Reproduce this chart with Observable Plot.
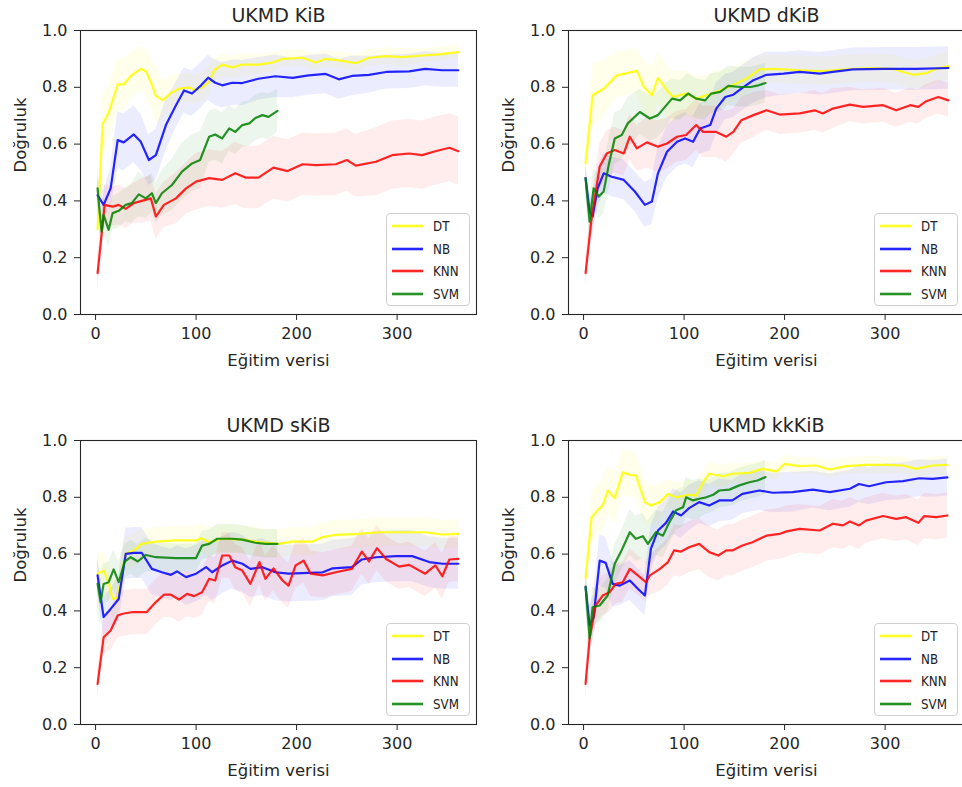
<!DOCTYPE html>
<html><head><meta charset="utf-8">
<script src="https://cdn.jsdelivr.net/npm/d3@7"></script>
<script src="https://cdn.jsdelivr.net/npm/@observablehq/plot@0.6"></script>
<style>
html,body{margin:0;padding:0;background:#fff;overflow:hidden;width:962px;height:787px}
#root{position:relative;width:962px;height:787px;overflow:hidden;font-family:"DejaVu Sans",sans-serif}
.panel{position:absolute}
.legend{position:absolute;box-sizing:border-box;border:1px solid #d0d0d0;border-radius:4px;background:rgba(255,255,255,0.85)}
.lrow{position:absolute;left:0;height:20px;width:100%}
.lrow svg{position:absolute;left:5px;top:0}
.lrow span{position:absolute;left:46px;top:1px;font-size:13.5px;color:#222;line-height:18px;transform:scaleX(0.88);transform-origin:left center}
</style></head><body><div id="root"></div>
<script>
// ---- data: [training size, mean accuracy, spread] ----
const methods = ["DT", "NB", "KNN", "SVM"];
const colors = ["#ffff00", "#0000ff", "#ff0000", "#008000"];
const titles = ["UKMD KiB", "UKMD dKiB", "UKMD sKiB", "UKMD kkKiB"];
const xTicks = [0, 100, 200, 300];
const yTicks = [0, 0.2, 0.4, 0.6, 0.8, 1.0];
const xLabel = "Eğitim verisi";
const yLabel = "Doğruluk";

const kib_DT = [[2,0.30,0.06],[7,0.67,0.10],[13,0.71,0.10],[22,0.81,0.09],[28,0.81,0.09],[35,0.84,0.08],[45,0.865,0.08],[50,0.856,0.08],[56,0.81,0.09],[60,0.77,0.10],[67,0.755,0.07],[75,0.78,0.06],[83,0.795,0.05],[93,0.80,0.05],[98,0.79,0.05],[106,0.80,0.05],[113,0.82,0.05],[118,0.86,0.04],[126,0.88,0.04],[136,0.87,0.04],[146,0.88,0.04],[162,0.88,0.035],[176,0.887,0.035],[186,0.90,0.03],[206,0.904,0.03],[219,0.887,0.03],[229,0.90,0.03],[242,0.895,0.03],[259,0.885,0.03],[272,0.904,0.03],[289,0.91,0.03],[305,0.906,0.03],[325,0.912,0.025],[342,0.916,0.025],[361,0.924,0.025]];
const kib_NB = [[2,0.42,0.06],[8,0.386,0.05],[15,0.444,0.07],[22,0.614,0.10],[28,0.606,0.10],[38,0.634,0.10],[45,0.608,0.10],[53,0.544,0.09],[60,0.561,0.09],[70,0.667,0.09],[80,0.737,0.08],[88,0.789,0.08],[96,0.778,0.08],[105,0.807,0.08],[112,0.834,0.08],[119,0.816,0.08],[126,0.807,0.08],[136,0.816,0.08],[146,0.815,0.08],[162,0.83,0.075],[179,0.839,0.075],[196,0.833,0.07],[212,0.842,0.07],[229,0.847,0.07],[242,0.828,0.07],[255,0.84,0.07],[272,0.844,0.065],[289,0.854,0.06],[312,0.856,0.06],[328,0.865,0.06],[345,0.86,0.06],[361,0.86,0.06]];
const kib_KNN = [[2,0.146,0.06],[7,0.316,0.07],[9,0.386,0.07],[17,0.38,0.07],[23,0.386,0.07],[30,0.372,0.07],[38,0.392,0.07],[46,0.40,0.08],[55,0.409,0.08],[60,0.345,0.08],[68,0.386,0.08],[80,0.409,0.09],[90,0.444,0.09],[100,0.468,0.10],[113,0.48,0.10],[126,0.474,0.10],[139,0.497,0.11],[149,0.482,0.11],[162,0.482,0.11],[177,0.517,0.11],[191,0.505,0.11],[206,0.529,0.11],[219,0.526,0.11],[239,0.529,0.11],[250,0.544,0.11],[259,0.524,0.11],[279,0.538,0.12],[295,0.561,0.12],[312,0.567,0.12],[325,0.561,0.12],[338,0.575,0.12],[352,0.587,0.12],[361,0.575,0.12]];
const kib_SVM = [[2,0.444,0.09],[4,0.363,0.07],[6,0.292,0.06],[8,0.351,0.06],[13,0.298,0.06],[17,0.357,0.06],[23,0.365,0.06],[30,0.386,0.06],[36,0.392,0.07],[43,0.423,0.08],[50,0.409,0.07],[56,0.427,0.07],[60,0.392,0.07],[66,0.427,0.08],[76,0.456,0.09],[86,0.503,0.10],[96,0.532,0.10],[104,0.544,0.10],[113,0.626,0.09],[119,0.634,0.09],[126,0.62,0.09],[133,0.655,0.08],[139,0.643,0.08],[146,0.667,0.08],[153,0.673,0.08],[159,0.692,0.08],[166,0.702,0.08],[172,0.696,0.08],[181,0.717,0.075]];

const dkib_DT = [[2,0.532,0.06],[6,0.667,0.10],[9,0.772,0.11],[20,0.795,0.10],[33,0.842,0.08],[53,0.858,0.08],[60,0.801,0.09],[68,0.772,0.10],[74,0.833,0.09],[83,0.789,0.09],[89,0.766,0.09],[102,0.778,0.08],[112,0.76,0.08],[122,0.772,0.07],[136,0.789,0.07],[149,0.809,0.06],[162,0.83,0.06],[175,0.863,0.05],[189,0.865,0.05],[215,0.86,0.05],[235,0.857,0.05],[248,0.86,0.05],[268,0.865,0.05],[288,0.868,0.05],[308,0.865,0.05],[318,0.854,0.05],[328,0.844,0.05],[341,0.85,0.05],[351,0.865,0.05],[363,0.875,0.05]];
const dkib_NB = [[2,0.48,0.05],[6,0.363,0.06],[9,0.345,0.06],[14,0.444,0.07],[20,0.497,0.07],[28,0.485,0.07],[40,0.474,0.07],[51,0.433,0.07],[61,0.386,0.08],[68,0.398,0.08],[74,0.497,0.09],[83,0.573,0.09],[93,0.608,0.09],[101,0.62,0.09],[109,0.608,0.09],[116,0.655,0.09],[126,0.667,0.09],[132,0.725,0.09],[141,0.766,0.08],[149,0.774,0.08],[157,0.795,0.08],[169,0.825,0.08],[182,0.844,0.08],[199,0.848,0.075],[215,0.854,0.075],[235,0.848,0.075],[248,0.854,0.075],[268,0.863,0.075],[298,0.865,0.075],[331,0.865,0.075],[363,0.868,0.075]];
const dkib_KNN = [[2,0.146,0.05],[8,0.339,0.07],[16,0.52,0.08],[23,0.567,0.08],[31,0.579,0.08],[40,0.567,0.08],[46,0.626,0.08],[53,0.585,0.08],[63,0.606,0.09],[74,0.591,0.09],[83,0.602,0.09],[93,0.626,0.09],[102,0.632,0.09],[112,0.667,0.09],[119,0.643,0.09],[132,0.643,0.09],[142,0.626,0.09],[149,0.643,0.08],[157,0.684,0.08],[169,0.702,0.08],[182,0.719,0.07],[195,0.704,0.07],[215,0.708,0.07],[230,0.719,0.07],[238,0.708,0.07],[248,0.725,0.07],[265,0.739,0.06],[278,0.731,0.06],[298,0.737,0.06],[311,0.719,0.06],[325,0.737,0.06],[333,0.731,0.06],[341,0.751,0.06],[353,0.766,0.06],[363,0.754,0.06]];
const dkib_SVM = [[2,0.48,0.06],[6,0.327,0.07],[10,0.444,0.07],[15,0.415,0.08],[20,0.433,0.08],[25,0.526,0.09],[31,0.62,0.09],[38,0.632,0.09],[44,0.673,0.09],[56,0.713,0.08],[66,0.69,0.08],[74,0.702,0.08],[81,0.731,0.08],[88,0.76,0.07],[96,0.754,0.07],[104,0.778,0.07],[112,0.76,0.07],[121,0.754,0.07],[127,0.778,0.07],[136,0.784,0.07],[144,0.805,0.07],[156,0.801,0.07],[166,0.801,0.07],[174,0.807,0.07],[181,0.815,0.07]];

const skib_DT = [[2,0.531,0.07],[8,0.542,0.07],[13,0.501,0.07],[17,0.442,0.07],[22,0.448,0.06],[27,0.548,0.06],[30,0.601,0.06],[38,0.613,0.06],[46,0.636,0.05],[60,0.644,0.05],[80,0.648,0.05],[100,0.648,0.05],[105,0.656,0.05],[113,0.642,0.05],[126,0.654,0.05],[146,0.651,0.05],[163,0.642,0.05],[182,0.636,0.05],[196,0.644,0.05],[216,0.644,0.05],[226,0.66,0.05],[239,0.668,0.05],[262,0.671,0.05],[282,0.677,0.05],[312,0.677,0.05],[328,0.677,0.05],[345,0.669,0.05],[361,0.671,0.05]];
const skib_NB = [[2,0.525,0.06],[8,0.378,0.07],[15,0.407,0.07],[23,0.442,0.08],[30,0.601,0.09],[38,0.604,0.09],[46,0.604,0.09],[56,0.548,0.09],[66,0.536,0.09],[75,0.527,0.09],[81,0.539,0.09],[90,0.519,0.10],[100,0.531,0.10],[110,0.554,0.10],[116,0.536,0.10],[126,0.56,0.10],[136,0.577,0.10],[146,0.566,0.10],[154,0.548,0.10],[166,0.554,0.10],[179,0.536,0.10],[192,0.531,0.10],[212,0.534,0.10],[226,0.536,0.10],[236,0.55,0.10],[255,0.554,0.10],[265,0.581,0.09],[279,0.589,0.09],[299,0.593,0.09],[315,0.593,0.09],[332,0.572,0.09],[345,0.566,0.09],[361,0.566,0.09]];
const skib_KNN = [[2,0.143,0.05],[8,0.307,0.06],[15,0.331,0.07],[22,0.384,0.08],[27,0.39,0.08],[37,0.396,0.08],[51,0.396,0.08],[60,0.431,0.08],[68,0.457,0.08],[75,0.457,0.08],[83,0.44,0.08],[91,0.46,0.08],[98,0.452,0.08],[106,0.466,0.08],[113,0.513,0.08],[119,0.507,0.08],[126,0.595,0.08],[133,0.595,0.08],[139,0.554,0.08],[146,0.542,0.08],[154,0.495,0.08],[163,0.572,0.08],[169,0.513,0.08],[177,0.55,0.08],[186,0.507,0.08],[192,0.489,0.08],[199,0.56,0.08],[207,0.577,0.08],[214,0.531,0.08],[226,0.525,0.08],[239,0.536,0.08],[255,0.548,0.08],[265,0.609,0.08],[272,0.574,0.08],[280,0.621,0.08],[289,0.583,0.08],[302,0.556,0.08],[312,0.562,0.08],[328,0.531,0.08],[338,0.56,0.08],[345,0.522,0.08],[352,0.581,0.08],[361,0.583,0.08]];
const skib_SVM = [[2,0.495,0.10],[5,0.431,0.08],[8,0.495,0.07],[13,0.501,0.07],[18,0.546,0.07],[23,0.501,0.07],[29,0.574,0.06],[35,0.589,0.06],[42,0.574,0.06],[50,0.597,0.06],[60,0.589,0.05],[80,0.586,0.05],[100,0.586,0.05],[106,0.63,0.05],[113,0.636,0.05],[121,0.654,0.05],[136,0.654,0.05],[146,0.651,0.05],[159,0.64,0.05],[169,0.636,0.05],[181,0.636,0.05]];

const kkkib_DT = [[2,0.515,0.06],[8,0.73,0.09],[14,0.754,0.09],[19,0.771,0.09],[24,0.824,0.09],[31,0.797,0.09],[39,0.888,0.08],[46,0.879,0.08],[52,0.877,0.08],[61,0.783,0.08],[67,0.771,0.07],[76,0.783,0.06],[84,0.812,0.05],[92,0.80,0.05],[105,0.809,0.05],[112,0.806,0.05],[119,0.853,0.04],[125,0.883,0.04],[139,0.874,0.04],[148,0.883,0.035],[165,0.886,0.035],[178,0.90,0.03],[192,0.891,0.03],[200,0.918,0.03],[215,0.91,0.03],[231,0.912,0.03],[245,0.898,0.03],[261,0.91,0.03],[281,0.914,0.03],[301,0.914,0.03],[318,0.912,0.03],[331,0.90,0.03],[347,0.912,0.03],[362,0.914,0.03]];
const kkkib_NB = [[2,0.484,0.06],[6,0.349,0.07],[10,0.378,0.08],[16,0.577,0.09],[22,0.569,0.09],[29,0.495,0.08],[36,0.489,0.07],[46,0.507,0.07],[54,0.478,0.07],[61,0.454,0.07],[67,0.619,0.08],[74,0.683,0.08],[82,0.71,0.08],[89,0.75,0.08],[97,0.736,0.08],[105,0.762,0.08],[115,0.783,0.075],[125,0.771,0.075],[135,0.789,0.075],[148,0.789,0.07],[158,0.812,0.07],[175,0.824,0.07],[188,0.816,0.07],[208,0.818,0.07],[228,0.827,0.065],[245,0.818,0.065],[265,0.83,0.065],[274,0.847,0.065],[284,0.839,0.065],[301,0.853,0.065],[318,0.857,0.065],[334,0.867,0.065],[347,0.865,0.065],[362,0.87,0.065]];
const kkkib_KNN = [[2,0.143,0.05],[6,0.302,0.06],[12,0.419,0.07],[19,0.454,0.07],[26,0.466,0.07],[32,0.495,0.07],[39,0.501,0.07],[46,0.548,0.07],[54,0.525,0.07],[62,0.501,0.07],[66,0.525,0.07],[76,0.548,0.08],[84,0.572,0.08],[90,0.613,0.09],[97,0.609,0.09],[105,0.624,0.09],[115,0.636,0.09],[125,0.607,0.09],[134,0.595,0.09],[142,0.613,0.09],[148,0.613,0.09],[158,0.63,0.09],[168,0.642,0.09],[182,0.665,0.09],[195,0.671,0.09],[202,0.68,0.09],[215,0.689,0.085],[235,0.683,0.085],[248,0.707,0.085],[258,0.701,0.085],[265,0.715,0.085],[274,0.701,0.085],[281,0.718,0.08],[298,0.734,0.08],[311,0.724,0.08],[321,0.73,0.08],[333,0.71,0.08],[339,0.734,0.08],[351,0.73,0.08],[362,0.736,0.08]];
const kkkib_SVM = [[2,0.486,0.08],[6,0.304,0.07],[9,0.413,0.07],[16,0.419,0.06],[24,0.454,0.06],[31,0.566,0.07],[37,0.607,0.07],[46,0.677,0.08],[52,0.654,0.08],[59,0.663,0.08],[64,0.636,0.08],[72,0.677,0.08],[79,0.665,0.08],[85,0.71,0.08],[92,0.754,0.07],[99,0.765,0.07],[102,0.80,0.07],[109,0.789,0.07],[115,0.795,0.07],[122,0.80,0.06],[129,0.809,0.06],[135,0.824,0.06],[145,0.827,0.06],[155,0.842,0.06],[165,0.853,0.06],[173,0.859,0.06],[181,0.871,0.06]];

const panelSeries = [
  [kib_DT, kib_NB, kib_KNN, kib_SVM],
  [dkib_DT, dkib_NB, dkib_KNN, dkib_SVM],
  [skib_DT, skib_NB, skib_KNN, skib_SVM],
  [kkkib_DT, kkkib_NB, kkkib_KNN, kkkib_SVM]
];

// ---- layout ----
const offsets = [[0, 0], [488, 0], [0, 410], [488, 410]];
const W = 481, H = 400, ML = 80, MR = 5, MT = 30, MB = 86;
const root = document.getElementById("root");

panelSeries.forEach((series, i) => {
  const rows = [];
  series.forEach((arr, k) => arr.forEach(([x, y, s]) =>
    rows.push({x, y, lo: Math.max(0, y - s), hi: Math.min(1, y + s), m: methods[k]})));

  const chart = Plot.plot({
    width: W, height: H,
    marginLeft: ML, marginRight: MR, marginTop: MT, marginBottom: MB,
    x: {domain: [-15, 379]},
    y: {domain: [0, 1]},
    color: {domain: methods, range: colors},
    style: {fontFamily: "DejaVu Sans", fontSize: "16px", color: "#262626", background: "transparent", overflow: "visible"},
    marks: [
      Plot.areaY(rows, {x: "x", y1: "lo", y2: "hi", z: "m", fill: "m", fillOpacity: 0.075, curve: "linear"}),
      Plot.lineY(rows, {x: "x", y: "y", z: "m", stroke: "m", strokeWidth: 2.2, strokeOpacity: 0.85, curve: "linear"}),
      Plot.frame({stroke: "#262626", strokeWidth: 1.1}),
      Plot.axisX({ticks: xTicks, tickSize: 6, tickPadding: 7, label: null}),
      Plot.axisY({ticks: yTicks, tickFormat: d3.format(".1f"), tickSize: 6, tickPadding: 7, label: null}),
      Plot.text([titles[i]], {text: d => d, frameAnchor: "top", dy: -15, fontSize: 19, lineAnchor: "middle"}),
      Plot.text([xLabel], {text: d => d, frameAnchor: "bottom", dy: 46, fontSize: 16.5, lineAnchor: "middle"}),
      Plot.text([yLabel], {text: d => d, frameAnchor: "left", dx: -60, rotate: -90, fontSize: 16.5, lineAnchor: "middle"})
    ]
  });

  const div = document.createElement("div");
  div.className = "panel";
  div.style.left = offsets[i][0] + "px";
  div.style.top = offsets[i][1] + "px";
  div.style.width = W + "px";
  div.style.height = H + "px";
  div.appendChild(chart);

  // legend (inside the frame, lower right)
  const lw = 84, lh = 93;
  const lg = document.createElement("div");
  lg.className = "legend";
  lg.style.left = (W - MR - 6 - lw) + "px";
  lg.style.top = (H - MB - 8 - lh) + "px";
  lg.style.width = lw + "px";
  lg.style.height = lh + "px";
  methods.forEach((m, k) => {
    const row = document.createElement("div");
    row.className = "lrow";
    row.style.top = (2 + k * 22.5) + "px";
    row.innerHTML = `<svg width="32" height="20"><line x1="0" x2="31" y1="10" y2="10" stroke="${colors[k]}" stroke-opacity="0.85" stroke-width="2.6"/></svg><span>${m}</span>`;
    lg.appendChild(row);
  });
  div.appendChild(lg);
  root.appendChild(div);
});
</script>
</body></html>
